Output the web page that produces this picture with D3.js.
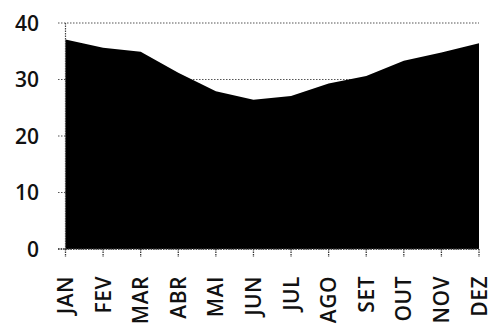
<!DOCTYPE html>
<html>
<head>
<meta charset="utf-8">
<script src="https://cdn.jsdelivr.net/npm/d3@7"></script>
<style>
  html, body { margin: 0; padding: 0; background: #fff; }
  svg { display: block; }
</style>
</head>
<body>
<svg id="chart" width="490" height="325"></svg>
<script>
const months = ["JAN","FEV","MAR","ABR","MAI","JUN","JUL","AGO","SET","OUT","NOV","DEZ"];
const values = [37.1, 35.6, 34.9, 31.2, 27.9, 26.4, 27.1, 29.3, 30.6, 33.3, 34.8, 36.4];
const yTicks = [0, 10, 20, 30, 40];

const svg = d3.select("#chart");
const x0 = 65.5, x1 = 479, yTop = 23, yBot = 249;
const font = "'Open Sans', sans-serif";

const x = d3.scalePoint().domain(months).range([x0, x1]);
const y = d3.scaleLinear().domain([0, 40]).range([yBot, yTop]);

// gridlines
svg.append("g").selectAll("line").data(yTicks).join("line")
  .attr("x1", 58).attr("x2", x1)
  .attr("y1", d => y(d)).attr("y2", d => y(d))
  .attr("stroke", "#555").attr("stroke-width", 1.2)
  .attr("stroke-dasharray", "1.5,1.5");

// area
const area = d3.area()
  .x((d, i) => x(months[i]))
  .y0(y(0))
  .y1(d => y(d));
svg.append("path").datum(values).attr("d", area).attr("fill", "#000");

// y axis line
svg.append("line").attr("x1", x0).attr("x2", x0).attr("y1", yTop).attr("y2", yBot)
  .attr("stroke", "#444").attr("stroke-width", 1.2).attr("stroke-dasharray", "1.5,1");

// x axis line & ticks
svg.append("line").attr("x1", 58).attr("x2", x1).attr("y1", yBot).attr("y2", yBot)
  .attr("stroke", "#333").attr("stroke-width", 1.3).attr("stroke-dasharray", "1.5,1");
svg.append("g").selectAll("line").data(months).join("line")
  .attr("x1", d => x(d)).attr("x2", d => x(d))
  .attr("y1", yBot).attr("y2", yBot + 8)
  .attr("stroke", "#333").attr("stroke-width", 1.3).attr("stroke-dasharray", "1.5,1");

// y labels
svg.append("g").selectAll("text").data(yTicks).join("text")
  .attr("x", 39).attr("y", d => y(d) + 7.8)
  .attr("text-anchor", "end")
  .attr("font-family", font).attr("font-size", 21).attr("font-weight", 600)
  .attr("fill", "#111")
  .text(d => d);

// x labels
svg.append("g").selectAll("text").data(months).join("text")
  .attr("transform", d => `translate(${x(d) + 7.5},276) rotate(-90)`)
  .attr("text-anchor", "end")
  .attr("font-family", font).attr("font-size", 21).attr("font-weight", 600)
  .attr("letter-spacing", 0.5)
  .attr("fill", "#111")
  .text(d => d);
</script>
</body>
</html>
